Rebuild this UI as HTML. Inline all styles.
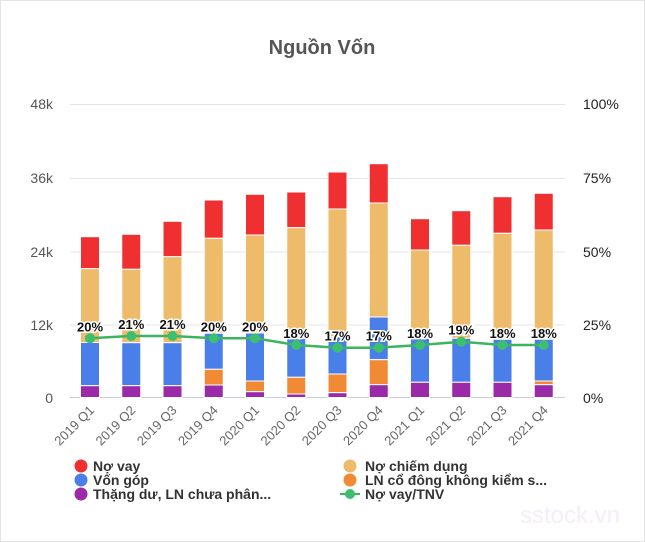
<!DOCTYPE html>
<html><head><meta charset="utf-8"><style>
body{margin:0;background:#fff;}
svg{display:block;font-family:"Liberation Sans",sans-serif;}
</style></head><body>
<svg width="645" height="542" viewBox="0 0 645 542">
<rect x="0.5" y="0.5" width="644" height="541" fill="#fff" stroke="#e4e4e4"/>
<text x="322" y="54" text-anchor="middle" font-size="20" font-weight="bold" fill="#555">Nguồn Vốn</text>
<g stroke="#e6e6e6" stroke-width="1">
<line x1="70" x2="565" y1="104.5" y2="104.5"/>
<line x1="70" x2="565" y1="178.5" y2="178.5"/>
<line x1="70" x2="565" y1="252" y2="252"/>
<line x1="70" x2="565" y1="325" y2="325"/>
<line x1="70" x2="565" y1="397.5" y2="397.5" stroke="#ccd"/>
</g>
<g font-size="14" fill="#555" text-anchor="end">
<text x="53" y="109">48k</text><text x="53" y="183">36k</text><text x="53" y="257">24k</text><text x="53" y="330">12k</text><text x="53" y="403">0</text>
</g>
<g font-size="14" fill="#222">
<text x="583" y="109">100%</text><text x="583" y="183">75%</text><text x="583" y="257">50%</text><text x="583" y="330">25%</text><text x="583" y="403">0%</text>
</g>
<g id="bars" stroke="#fff" stroke-width="1"></g>
<g id="xl" font-size="13" fill="#666"></g>
<polyline id="ln" fill="none" stroke="#3cb55e" stroke-width="2.5"/>
<g id="dots"></g>
<g id="lbl" font-size="13" font-weight="bold" fill="#111" text-anchor="middle" stroke="#fff" stroke-width="3" paint-order="stroke"></g>
<g font-size="14" font-weight="bold" fill="#333">
<circle cx="81" cy="466" r="6.5" fill="#f03030"/><text x="93" y="471">Nợ vay</text>
<circle cx="81" cy="480" r="6.5" fill="#4a7ee8"/><text x="93" y="485">Vốn góp</text>
<circle cx="81" cy="494" r="6.5" fill="#9a2aa8"/><text x="93" y="499">Thặng dư, LN chưa phân...</text>
<circle cx="350" cy="466" r="6.5" fill="#eebb6a"/><text x="365" y="471">Nợ chiếm dụng</text>
<circle cx="350" cy="480" r="6.5" fill="#f08a35"/><text x="365" y="485">LN cổ đông không kiểm s...</text>
<line x1="340" x2="360" y1="494" y2="494" stroke="#3cb55e" stroke-width="2"/><circle cx="350" cy="494" r="5" fill="#3cc070"/><text x="365" y="499">Nợ vay/TNV</text>
</g>
<text x="520" y="523" font-size="24" fill="#f5eef9">sstock.vn</text>
<script>
var d=[
["2019 Q1",236.7,268.7,342.5,385.7,385.7,338.3,"20%"],
["2019 Q2",234.3,269.3,342.7,385.7,385.7,336,"21%"],
["2019 Q3",221.3,256.7,342.7,385.7,385.7,336,"21%"],
["2019 Q4",200,238.3,333.3,369.3,385,338.3,"20%"],
["2020 Q1",194.3,235,333,381,391.7,338.3,"20%"],
["2020 Q2",192,227.7,338.3,377.3,394,345,"18%"],
["2020 Q3",172,209,336.7,374,392.7,347.7,"17%"],
["2020 Q4",163.7,203,317,359.7,384.7,347.7,"17%"],
["2021 Q1",218.7,250,338.3,382.3,382.3,345,"18%"],
["2021 Q2",210.7,245.3,338.3,382.3,382.3,341.7,"19%"],
["2021 Q3",196.7,233.3,339.3,382.3,382.3,345,"18%"],
["2021 Q4",193.3,230,339.3,381,384.7,345,"18%"]];
var ns="http://www.w3.org/2000/svg",B=document.getElementById("bars"),X=document.getElementById("xl"),D=document.getElementById("dots"),L=document.getElementById("lbl"),pts=[];
function r(x,y1,y2,c){if(y2-y1<=0)return;var e=document.createElementNS(ns,"rect");e.setAttribute("x",x-9.5);e.setAttribute("y",y1);e.setAttribute("width",19);e.setAttribute("height",y2-y1);e.setAttribute("fill",c);B.appendChild(e);}
d.forEach(function(b,i){var x=90+i*41.25;
r(x,b[1],b[2],"#f03030");r(x,b[2],b[3],"#eebb6a");r(x,b[3],b[4],"#4a7ee8");r(x,b[4],b[5],"#f08a35");r(x,b[5],397.5,"#9a2aa8");
pts.push(x+","+b[6]);
var c=document.createElementNS(ns,"circle");c.setAttribute("cx",x);c.setAttribute("cy",b[6]);c.setAttribute("r",5);c.setAttribute("fill","#3cc070");D.appendChild(c);
var t=document.createElementNS(ns,"text");t.setAttribute("x",x);t.setAttribute("y",b[6]-7);t.textContent=b[7];L.appendChild(t);
var u=document.createElementNS(ns,"text");u.setAttribute("text-anchor","end");u.setAttribute("transform","translate("+(x+5)+",411) rotate(-45)");u.textContent=b[0];X.appendChild(u);});
document.getElementById("ln").setAttribute("points",pts.join(" "));
</script>
</svg>
</body></html>
